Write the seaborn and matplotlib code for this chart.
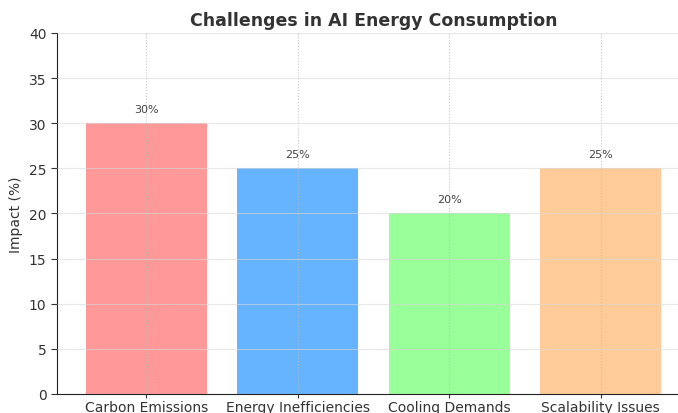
import numpy as np
import pandas as pd
import matplotlib
matplotlib.use("Agg")
import matplotlib.pyplot as plt
import seaborn as sns

# data
challenges = ["Carbon Emissions", "Energy Inefficiencies", "Cooling Demands", "Scalability Issues"]
impact = [30, 25, 20, 25]
colors = ["#ff9999", "#66b3ff", "#99ff99", "#ffcc99"]

df = pd.DataFrame({"Challenge": challenges, "Impact": impact})

sns.set_style("ticks")
plt.rcParams['font.family'] = ['DejaVu Sans']

fig = plt.figure(figsize=(6.78, 4.14), dpi=100)
# the original is cropped on the right, so the axes run past the edge
ax = fig.add_axes([0.084, 0.046, 0.934, 0.872])

sns.barplot(data=df, x="Challenge", y="Impact", hue="Challenge",
            palette=colors, legend=False, width=0.8, saturation=1,
            linewidth=0, ax=ax)

for i, v in enumerate(impact):
    ax.text(i, v + 1, f"{v}%", ha="center", va="bottom", fontsize=8, color="#444444")

ax.set_ylim(0, 40)
ax.set_xlim(-0.59, 3.59)
ax.set_yticks(np.arange(0, 41, 5))
ax.set_title("Challenges in AI Energy Consumption", fontsize=12.5, fontweight="bold",
             color="#333333", pad=6)
ax.set_ylabel("Impact (%)", fontsize=10, color="#333333")
ax.set_xlabel("")
ax.tick_params(axis="y", labelsize=10, colors="#333333", length=4)
ax.tick_params(axis="x", labelsize=10, colors="#333333", length=3, pad=1)

ax.set_axisbelow(False)
ax.yaxis.grid(True, color="#d8d8d8", linestyle="-", linewidth=0.8, alpha=0.6)
ax.xaxis.grid(True, color="#bbbbbb", linestyle=":", linewidth=0.8, alpha=0.8)

sns.despine(ax=ax)
ax.spines["left"].set_color("#222222")
ax.spines["bottom"].set_color("#222222")

fig.savefig("out.png", dpi=100)
